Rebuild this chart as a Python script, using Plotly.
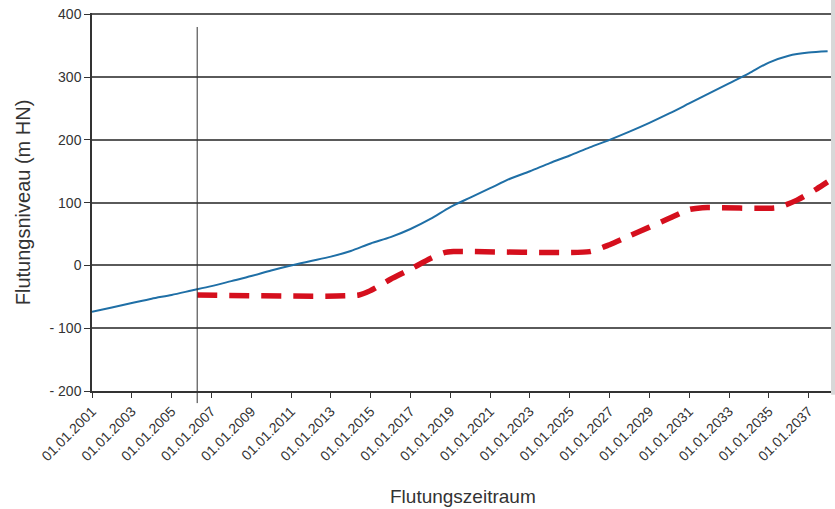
"""Flutungsniveau chart: forecast flooding level vs. minimum level."""
import plotly.graph_objects as go

# blue line: flooding level forecast (m HN)
blue_dates = [
    "2001-01-01", "2002-01-01", "2003-01-01", "2004-01-01", "2005-01-01",
    "2006-01-01", "2007-01-01", "2008-01-01", "2009-01-01", "2010-01-01",
    "2011-01-01", "2012-01-01", "2013-01-01", "2014-01-01", "2015-01-01",
    "2016-01-01", "2017-01-01", "2018-01-01", "2019-01-01", "2020-01-01",
    "2021-01-01", "2022-01-01", "2023-01-01", "2024-01-01", "2025-01-01",
    "2026-01-01", "2027-01-01", "2028-01-01", "2029-01-01", "2030-01-01",
    "2031-01-01", "2032-01-01", "2033-01-01", "2034-01-01", "2035-01-01",
    "2036-01-01", "2037-01-01", "2037-12-15",
]
blue_values = [
    -74, -67, -60, -53, -47,
    -40, -33, -25, -17, -8,
    0, 7, 14, 23, 35,
    45, 58, 74, 93, 108,
    123, 138, 150, 163, 175,
    188, 200, 213, 227, 242,
    258, 274, 290, 306, 323,
    334, 339, 341,
]

# red dashed line: stepped level
red_dates = [
    "2006-04-15", "2014-06-01", "2015-01-01", "2016-01-01", "2017-01-01",
    "2018-01-01", "2018-09-01", "2019-03-01", "2026-01-01", "2027-01-01",
    "2028-01-01", "2029-01-01", "2030-01-01", "2031-01-01", "2031-09-01",
    "2035-06-01", "2036-06-01", "2037-06-01", "2037-12-15",
]
red_values = [
    -47, -47, -40, -22, -6,
    11, 20, 22, 22, 33,
    47, 61, 75, 89, 92,
    92, 104, 122, 133,
]

marker_date = "2006-04-15"

tick_years = list(range(2001, 2038, 2))
tick_vals = [f"{y}-01-01" for y in tick_years]
tick_text = [f"01.01.{y}" for y in tick_years]

y_vals = [-200, -100, 0, 100, 200, 300, 400]
y_text = ["- 200", "- 100", "0", "100", "200", "300", "400"]

FONT = "Liberation Sans, Arial, sans-serif"
GRID = "#5a5a5a"
TXT = "#333333"

fig = go.Figure()
fig.add_trace(
    go.Scatter(
        x=blue_dates, y=blue_values, mode="lines",
        line=dict(color="#1f6fa6", width=2, shape="spline", smoothing=0.8),
        showlegend=False, hoverinfo="skip",
    )
)
fig.add_trace(
    go.Scatter(
        x=red_dates, y=red_values, mode="lines",
        line=dict(color="#d50f1d", width=5.5, dash="20px,12px",
                  shape="spline", smoothing=0.6),
        showlegend=False, hoverinfo="skip",
    )
)

fig.add_shape(
    type="line", xref="x", yref="paper",
    x0=marker_date, x1=marker_date, y0=-0.032, y1=0.963,
    line=dict(color="#333333", width=1),
)
fig.add_shape(
    type="rect", xref="paper", yref="paper",
    x0=1.0, x1=1.012, y0=-0.01, y1=1.04,
    fillcolor="#d8d8d8", line=dict(width=0), layer="above",
)

# axis titles placed as annotations to match original positions
fig.add_annotation(
    text="Flutungsniveau (m HN)", xref="paper", yref="paper",
    x=-0.093, y=0.5, xanchor="center", yanchor="middle", textangle=-90,
    showarrow=False, font=dict(size=20, color=TXT),
)
fig.add_annotation(
    text="Flutungszeitraum", xref="paper", yref="paper",
    x=0.502, y=-0.278, xanchor="center", yanchor="middle",
    showarrow=False, font=dict(size=19, color=TXT),
)

fig.update_layout(
    width=835, height=509,
    margin=dict(l=92, r=4, t=13, b=118, autoexpand=False),
    paper_bgcolor="white", plot_bgcolor="white",
    font=dict(family=FONT, color=TXT),
)
fig.update_xaxes(
    type="date", range=["2001-01-01", "2038-02-15"],
    tickmode="array", tickvals=tick_vals, ticktext=tick_text,
    tickangle=-45, tickfont=dict(size=14, color=TXT),
    ticks="outside", ticklen=5, tickcolor="#333333", tickwidth=1,
    showgrid=False, showline=True, linecolor="#333333", linewidth=1.5,
    zeroline=False, automargin=False,
)
fig.update_yaxes(
    range=[-200, 402],
    tickmode="array", tickvals=y_vals, ticktext=y_text,
    tickfont=dict(size=14, color=TXT), ticklabeloverflow="allow",
    ticks="outside", ticklen=6, tickcolor="#333333", tickwidth=1,
    showgrid=True, gridcolor=GRID, gridwidth=2,
    showline=True, linecolor="#333333", linewidth=1.5,
    zeroline=False, automargin=False,
)

# drop the default 8px page margin so the figure fills the window exactly
fig.write_html(
    "out.html",
    config={"displayModeBar": False},
    post_script="document.body.style.margin = '0';",
)
